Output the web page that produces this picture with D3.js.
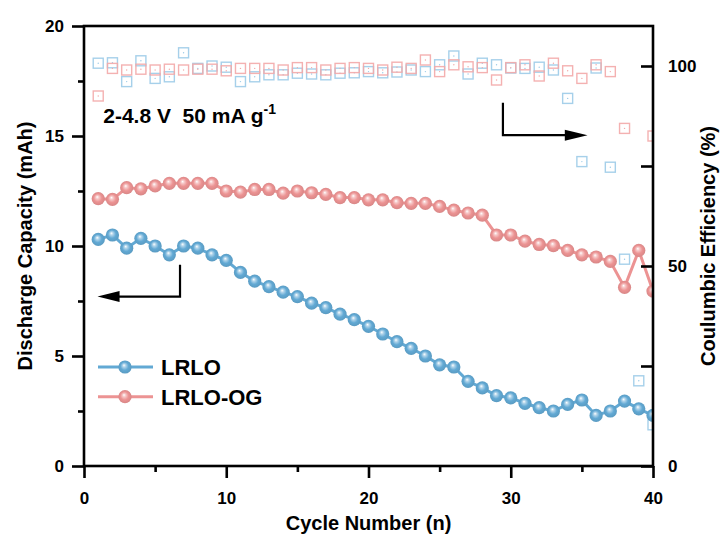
<!DOCTYPE html>
<html><head><meta charset="utf-8">
<script src="https://cdn.jsdelivr.net/npm/d3@7"></script>
<style>
html,body{margin:0;padding:0;background:#fff;}
svg text{font-family:"Liberation Sans",Arial,sans-serif;font-weight:bold;fill:#000;}
</style></head>
<body>
<svg id="chart" width="721" height="538"></svg>
<script>
// ---- data ----
const cycles = [1,2,3,4,5,6,7,8,9,10,11,12,13,14,15,16,17,18,19,20,21,22,23,24,25,26,27,28,29,30,31,32,33,34,35,36,37,38,39,40];
const capLRLO = [10.3,10.5,9.9,10.35,10.0,9.6,10.0,9.9,9.6,9.35,8.8,8.4,8.15,7.9,7.7,7.4,7.2,6.9,6.65,6.35,6.0,5.65,5.35,5.0,4.6,4.5,3.85,3.55,3.2,3.1,2.85,2.65,2.5,2.8,3.0,2.3,2.5,2.95,2.6,2.3];
const capOG = [12.15,12.12,12.65,12.6,12.73,12.85,12.85,12.85,12.85,12.5,12.45,12.57,12.57,12.4,12.5,12.42,12.35,12.2,12.2,12.1,12.1,11.97,11.94,11.94,11.8,11.63,11.5,11.4,10.5,10.5,10.22,10.07,10.02,9.8,9.6,9.5,9.3,8.12,9.8,7.95];
const ceLRLO = [100.7,100.8,96.1,101.3,96.9,97.3,103.3,99.4,100,99.7,96.1,97.3,97.8,97.8,98.2,98,97.8,98.2,98.3,98.6,98.3,98.5,99,98.6,100.3,102.5,98,100.7,100.3,99.5,99.4,99.7,99,91.9,76.1,99.5,74.7,51.7,21.3,10.3];
const ceOG = [92.5,99.4,99,99.2,99,99.2,99,99.2,99.2,98.8,99.4,99.4,99.4,99,99.6,99.6,99,99.4,99.6,99.4,99,99.7,99.4,101.5,98.6,100.3,99.8,99.6,96.5,99.6,100.3,97.5,100.7,98.8,96.9,100.3,98.6,84.4,null,82.5];
const xTicks = [0,10,20,30,40];
const xMinor = [5,15,25,35];
const yTicks = [0,5,10,15,20];
const yMinor = [2.5,7.5,12.5,17.5];
const y2Ticks = [0,50,100];
const y2Minor = [25,75];
const seriesNames = ["LRLO","LRLO-OG"];
const conditionLabel = "2-4.8 V\u00a0\u00a050 mA g";
const xTitle = "Cycle Number (n)";
const yTitle = "Discharge Capacity (mAh)";
const y2Title = "Coulumbic Efficiency (%)";

// ---- layout ----
const W = 721, H = 538;
const m = {left:84, right:68, top:26, bottom:72};
const pw = W - m.left - m.right, ph = H - m.top - m.bottom;
const blue = "#62a9d4", red = "#ec9393";
const blueSq = "#9ccbe8", redSq = "#f3a9a9";

const svg = d3.select("#chart");
const defs = svg.append("defs");
function grad(id, base){
  const g = defs.append("radialGradient").attr("id", id)
    .attr("cx","50%").attr("cy","50%").attr("r","55%").attr("fx","42%").attr("fy","36%");
  g.append("stop").attr("offset","0%").attr("stop-color","#ffffff");
  g.append("stop").attr("offset","22%").attr("stop-color", d3.interpolateRgb("#ffffff", base)(0.5));
  g.append("stop").attr("offset","55%").attr("stop-color", base);
  g.append("stop").attr("offset","100%").attr("stop-color", d3.color(base).darker(0.3));
}
grad("gBlue", blue); grad("gRed", red);
defs.append("clipPath").attr("id","clip").append("rect")
  .attr("x",0).attr("y",0).attr("width",pw).attr("height",ph);

const g = svg.append("g").attr("transform",`translate(${m.left},${m.top})`);
const x = d3.scaleLinear().domain([0,40]).range([0,pw]);
const y = d3.scaleLinear().domain([0,20]).range([ph,0]);
const y2 = d3.scaleLinear().domain([0,110]).range([ph,0]);

const plot = g.append("g").attr("clip-path","url(#clip)");

// CE squares
function squares(vals, color){
  const sq = plot.append("g");
  const pts = cycles.map((c,i)=>({c, v:vals[i]})).filter(d=>d.v!=null);
  sq.selectAll("rect").data(pts).enter().append("rect")
    .attr("x",d=>x(d.c)-5).attr("y",d=>y2(d.v)-5).attr("width",10).attr("height",10)
    .attr("fill","none").attr("stroke",color).attr("stroke-width",1.4).attr("opacity",0.9);
  sq.selectAll("circle").data(pts).enter().append("circle")
    .attr("cx",d=>x(d.c)).attr("cy",d=>y2(d.v)).attr("r",0.7).attr("fill",color);
}
squares(ceLRLO, blueSq);
squares(ceOG, redSq);

// capacity lines
function series(vals, color, gid){
  const pts = cycles.map((c,i)=>({c, v:vals[i]}));
  plot.append("path").datum(pts)
    .attr("d", d3.line().x(d=>x(d.c)).y(d=>y(d.v)))
    .attr("fill","none").attr("stroke",color).attr("stroke-width",3);
  plot.append("g").selectAll("circle").data(pts).enter().append("circle")
    .attr("cx",d=>x(d.c)).attr("cy",d=>y(d.v)).attr("r",6.6)
    .attr("fill",`url(#${gid})`);
}
series(capOG, red, "gRed");
series(capLRLO, blue, "gBlue");

// ---- axes ----
const axW = 2.6;
function styleAxis(sel){
  sel.select(".domain").remove();
  sel.selectAll("line").attr("stroke","#000").attr("stroke-width",axW);
  sel.selectAll("text").attr("font-size","17px").attr("font-weight","bold")
    .attr("font-family","Liberation Sans, Arial, sans-serif");
}
// x axis
const gx = g.append("g").attr("transform",`translate(0,${ph})`)
  .call(d3.axisBottom(x).tickValues(xTicks).tickSize(12).tickPadding(14).tickFormat(d3.format("d")));
styleAxis(gx);
g.append("g").attr("transform",`translate(0,${ph})`)
  .call(d3.axisBottom(x).tickValues(xMinor).tickSize(6).tickFormat(""))
  .call(s=>{s.select(".domain").remove(); s.selectAll("line").attr("stroke","#000").attr("stroke-width",axW);});
// y left
const gy = g.append("g")
  .call(d3.axisLeft(y).tickValues(yTicks).tickSize(12).tickPadding(8).tickFormat(d3.format("d")));
styleAxis(gy);
g.append("g").call(d3.axisLeft(y).tickValues(yMinor).tickSize(6).tickFormat(""))
  .call(s=>{s.select(".domain").remove(); s.selectAll("line").attr("stroke","#000").attr("stroke-width",axW);});
// y right (inward ticks)
const gy2 = g.append("g").attr("transform",`translate(${pw},0)`)
  .call(d3.axisRight(y2).tickValues(y2Ticks).tickSize(-12).tickPadding(15).tickFormat(d3.format("d")));
styleAxis(gy2);
gy2.selectAll("text").attr("x",15);
g.append("g").attr("transform",`translate(${pw},0)`)
  .call(d3.axisRight(y2).tickValues(y2Minor).tickSize(-12).tickFormat(""))
  .call(s=>{s.select(".domain").remove(); s.selectAll("line").attr("stroke","#000").attr("stroke-width",axW);});
// frame
g.append("rect").attr("x",0).attr("y",0).attr("width",pw).attr("height",ph)
  .attr("fill","none").attr("stroke","#000").attr("stroke-width",axW);

// titles
svg.append("text").attr("x", m.left + pw/2).attr("y",530).attr("text-anchor","middle")
  .attr("font-size","20px").text(xTitle);
svg.append("text").attr("transform",`translate(32,${m.top+ph/2}) rotate(-90)`).attr("text-anchor","middle")
  .attr("font-size","20px").text(yTitle);
svg.append("text").attr("transform",`translate(715,${m.top+ph/2}) rotate(-90)`).attr("text-anchor","middle")
  .attr("font-size","20px").text(y2Title);

// condition label
const cl = g.append("text").attr("x",x(1.35)).attr("y",y(15.6)).attr("font-size","21px");
cl.append("tspan").text(conditionLabel);
cl.append("tspan").attr("dy",-9).attr("font-size","14px").text("-1");

// arrows
function arrow(pts){
  g.append("path").attr("d", d3.line()(pts)).attr("fill","none").attr("stroke","#000").attr("stroke-width",2.2);
}
// left arrow (to left axis)
arrow([[x(6.75),y(9.15)],[x(6.75),y(7.7)],[x(2.45),y(7.7)]]);
g.append("path").attr("d",`M${x(0.95)},${y(7.7)} L${x(2.5)},${y(7.7)-5.5} L${x(2.5)},${y(7.7)+5.5} Z`).attr("fill","#000");
// right arrow (to right axis)
arrow([[x(29.45),y2(90.8)],[x(29.45),y2(82.7)],[x(34.3),y2(82.7)]]);
g.append("path").attr("d",`M${x(35.4)},${y2(82.7)} L${x(33.8)},${y2(82.7)-5.5} L${x(33.8)},${y2(82.7)+5.5} Z`).attr("fill","#000");

// legend
const lg = g.append("g");
[[blue,"gBlue",seriesNames[0],y(4.5)],[red,"gRed",seriesNames[1],y(3.15)]].forEach(([c,gid,name,yy])=>{
  lg.append("line").attr("x1",14).attr("x2",69).attr("y1",yy).attr("y2",yy).attr("stroke",c).attr("stroke-width",3);
  lg.append("circle").attr("cx",41).attr("cy",yy).attr("r",6.6).attr("fill",`url(#${gid})`);
  lg.append("text").attr("x",77).attr("y",yy+8).attr("font-size","22px").text(name);
});
</script>
</body></html>
